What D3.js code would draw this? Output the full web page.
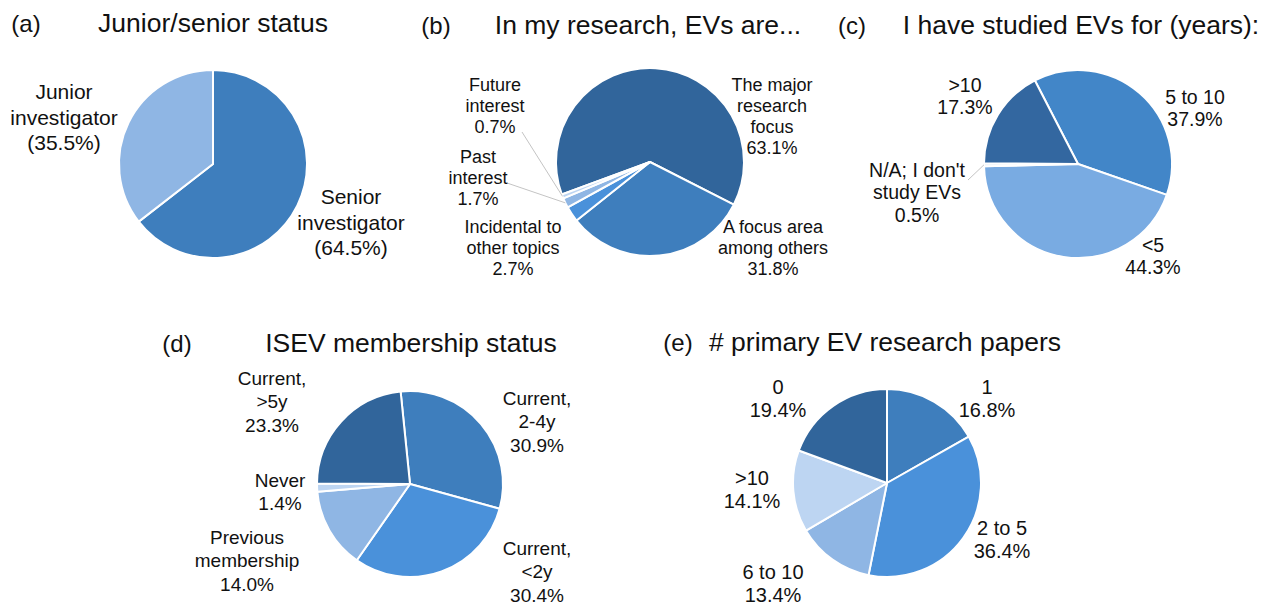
<!DOCTYPE html>
<html>
<head>
<meta charset="utf-8" />
<title>EV survey pies</title>
<style>
  body { margin: 0; background: #fff; }
  svg text { font-family: "Liberation Sans", Arial, sans-serif; fill: #111; }
</style>
</head>
<body>
<svg width="1266" height="608"></svg>
<script src="https://cdn.jsdelivr.net/npm/d3@7"></script>
<script>
// ---- data ----
var statusCats = ['Senior\ninvestigator', 'Junior\ninvestigator'];
var statusVals = [64.5, 35.5];

var roleCats = ['The major\nresearch\nfocus', 'A focus area\namong others', 'Incidental to\nother topics', 'Past\ninterest', 'Future\ninterest'];
var roleVals = [63.1, 31.8, 2.7, 1.7, 0.7];

var yearsCats = ['5 to 10', '<5', "N/A; I don't\nstudy EVs", '>10'];
var yearsVals = [37.9, 44.3, 0.5, 17.3];

var isevCats = ['Current,\n2-4y', 'Current,\n<2y', 'Previous\nmembership', 'Never', 'Current,\n>5y'];
var isevVals = [30.9, 30.4, 14.0, 1.4, 23.3];

var paperCats = ['1', '2 to 5', '6 to 10', '>10', '0'];
var paperVals = [16.8, 36.4, 13.4, 14.1, 19.4];

// ---- colours ----
var dark = '#31659b', mid = '#3e7ebd', bright = '#4a91da', light = '#8fb6e4', pale = '#bdd5f2';

var svg = d3.select('svg');

function drawPanel(o) {
    var g = svg.append('g');

    g.append('text').attr('x', o.tag[0]).attr('y', o.tag[1])
        .attr('text-anchor', 'middle').attr('dominant-baseline', 'central')
        .style('font-size', '24px').text(o.letter);
    g.append('text').attr('x', o.title[0]).attr('y', o.title[1])
        .attr('text-anchor', 'middle').attr('dominant-baseline', 'central')
        .style('font-size', '26.5px').text(o.titleText);

    var a0 = o.start * Math.PI / 180;
    var pie = d3.pie().sort(null).startAngle(a0).endAngle(a0 + 2 * Math.PI);
    var arcs = pie(o.values);
    var arc = d3.arc().innerRadius(0).outerRadius(o.r);
    var rim = d3.arc().innerRadius(o.r).outerRadius(o.r);

    var p = g.append('g').attr('transform', 'translate(' + o.cx + ',' + o.cy + ')');

    p.selectAll('path')
        .data(arcs)
        .enter()
        .append('path')
        .attr('d', arc)
        .attr('fill', function (d, i) { return o.colors[i]; })
        .attr('stroke', '#fff')
        .attr('stroke-width', 2)
        .attr('stroke-linejoin', 'round');

    // leader lines
    (o.leaders || []).forEach(function (l) {
        var end = rim.centroid(arcs[l.i]);
        p.append('line')
            .attr('x1', l.from[0]).attr('y1', l.from[1])
            .attr('x2', end[0]).attr('y2', end[1])
            .attr('stroke', '#c4c4c4').attr('stroke-width', 1);
    });

    arcs.forEach(function (d, i) {
        var lines = o.cats[i].split('\n');
        var v = d.data.toFixed(1) + '%';
        lines.push(o.paren ? '(' + v + ')' : v);
        var t = p.append('text')
            .attr('text-anchor', 'middle')
            .style('font-size', o.fs + 'px');
        lines.forEach(function (s, k) {
            t.append('tspan')
                .attr('x', o.lab[i][0])
                .attr('y', o.lab[i][1] + k * o.lh)
                .attr('dy', '0.35em')
                .text(s);
        });
    });
}

drawPanel({
    letter: '(a)', tag: [26, 23], titleText: 'Junior/senior status', title: [213, 23],
    cx: 213, cy: 164, r: 94, start: 0,
    cats: statusCats, values: statusVals, colors: [mid, light], paren: true,
    fs: 21, lh: 25.5,
    lab: [[138, 33], [-149, -72]]
});

drawPanel({
    letter: '(b)', tag: [436, 25], titleText: 'In my research, EVs are...', title: [648, 25],
    cx: 650, cy: 162, r: 94, start: -110.2,
    cats: roleCats, values: roleVals, colors: [dark, mid, bright, light, pale],
    fs: 18, lh: 21,
    lab: [[122, -77], [123, 65], [-137, 65], [-172, -5], [-155, -77]],
    leaders: [{ i: 4, from: [-128, -30] }, { i: 3, from: [-143, 21] }]
});

drawPanel({
    letter: '(c)', tag: [852, 25], titleText: 'I have studied EVs for (years):', title: [1081, 25],
    cx: 1078, cy: 164, r: 94, start: -27.3,
    cats: yearsCats, values: yearsVals, colors: ['#4286c8', '#79abe2', '#dce8f5', '#3367a0'],
    fs: 19.5, lh: 22.5,
    lab: [[117, -67], [75, 81], [-161, 6], [-113, -79]],
    leaders: [{ i: 2, from: [-110, 16] }]
});

drawPanel({
    letter: '(d)', tag: [177, 343], titleText: 'ISEV membership status', title: [411, 343],
    cx: 410, cy: 484, r: 93, start: -5.8,
    cats: isevCats, values: isevVals, colors: [mid, bright, light, pale, dark],
    fs: 19, lh: 23.5,
    lab: [[127, -86], [127, 64], [-163, 53], [-130, -4], [-138, -106]]
});

drawPanel({
    letter: '(e)', tag: [678, 342], titleText: '# primary EV research papers', title: [885, 342],
    cx: 887, cy: 483, r: 94, start: 0,
    cats: paperCats, values: paperVals, colors: [mid, bright, light, pale, dark],
    fs: 20, lh: 23,
    lab: [[100, -96], [115, 45], [-114, 89], [-135, -5], [-109, -96]]
});
</script>
</body>
</html>
